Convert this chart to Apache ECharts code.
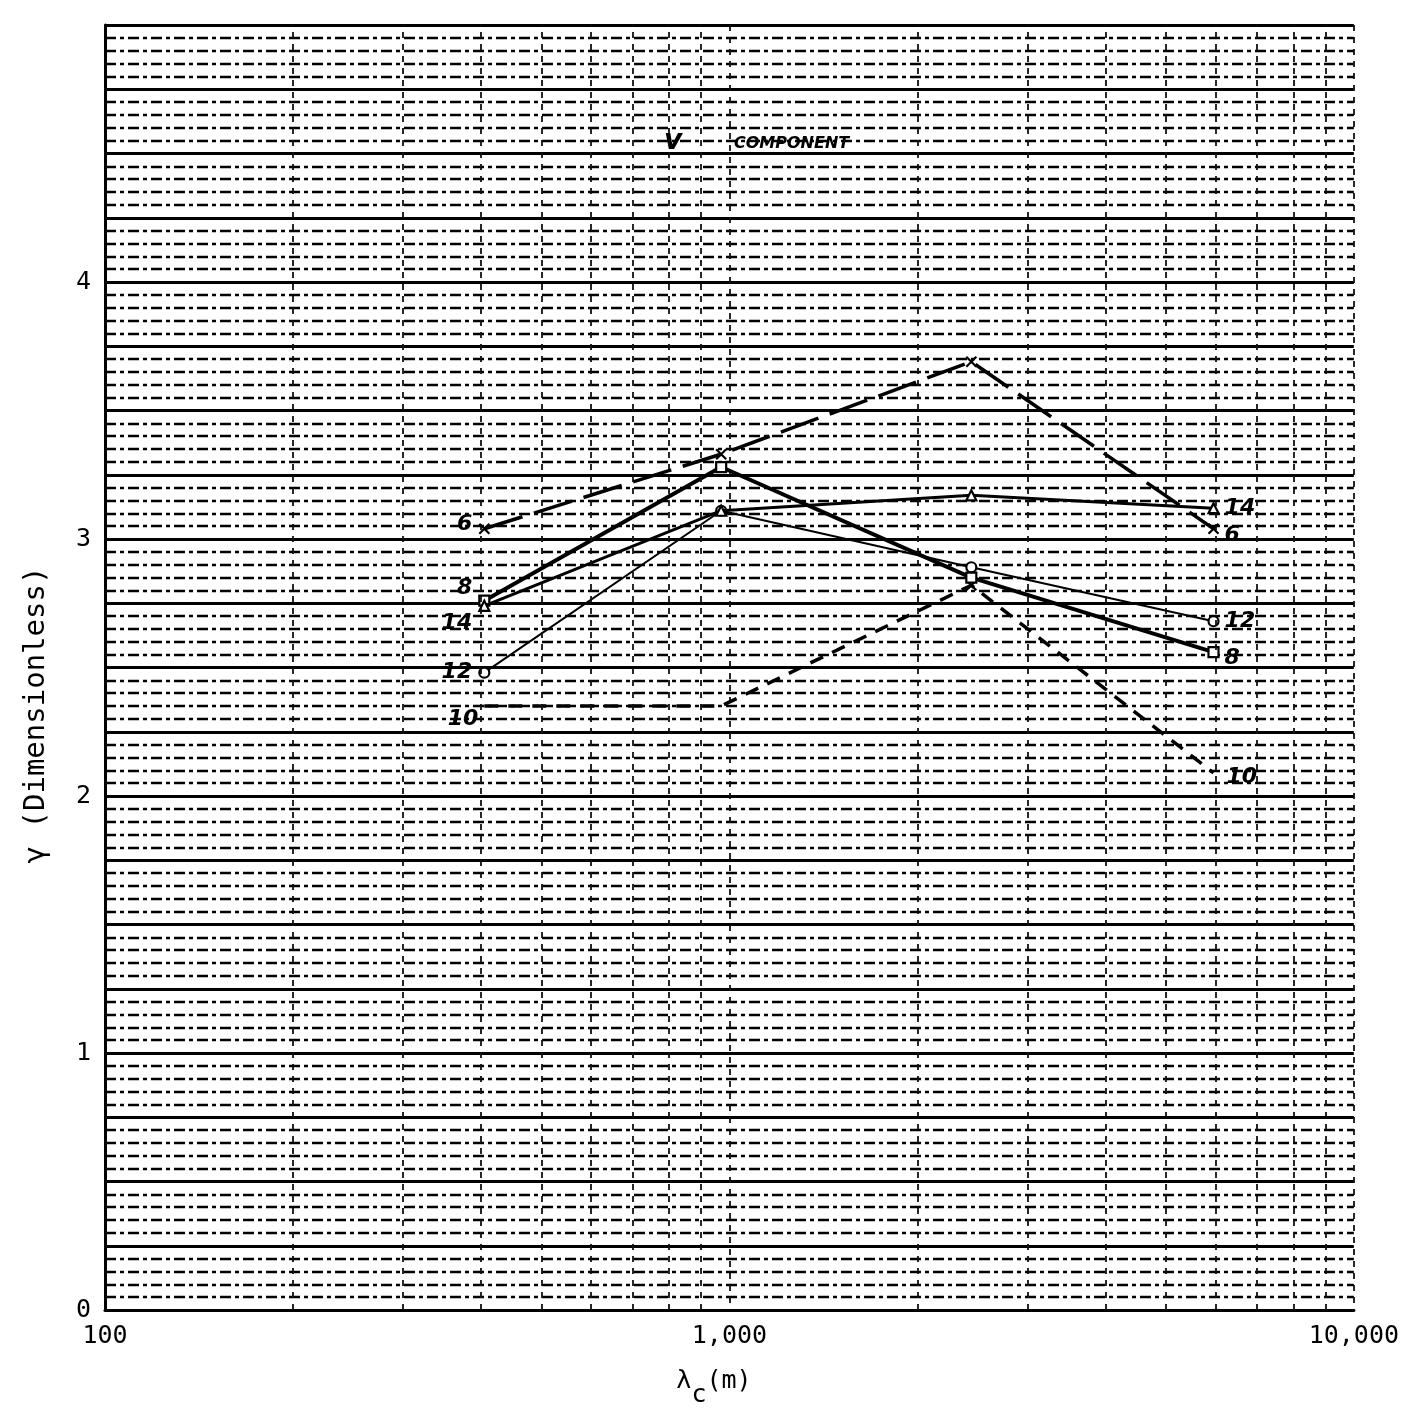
<!DOCTYPE html>
<html>
<head>
<meta charset="utf-8">
<script src="https://cdn.jsdelivr.net/npm/echarts@6/dist/echarts.min.js"></script>
<style>
  html, body { margin: 0; padding: 0; background: #fff; }
  #chart { width: 1402px; height: 1409px; }
</style>
</head>
<body>
<div id="chart"></div>
<script>
// Cutoff wavelength (m) at which gamma was evaluated
const lambdaC = [405, 970, 2440, 5960];

// Gamma (dimensionless) for each curve, labelled 6, 8, 14, 12, 10
const gamma6  = [3.04, 3.33, 3.69, 3.04];
const gamma8  = [2.76, 3.28, 2.85, 2.56];
const gamma14 = [2.74, 3.11, 3.17, 3.12];
const gamma12 = [2.48, 3.11, 2.89, 2.68];
const gamma10 = [2.35, 2.35, 2.82, 2.09];

// Axis ticks
const xTickValues = [100, 1000, 10000];
const xTickLabels = ['100', '1,000', '10,000'];
const yTickLabels = [0, 1, 2, 3, 4];
// Log-paper rulings inside each decade
const decadeRulings = [200, 300, 400, 500, 600, 700, 800, 900,
                       2000, 3000, 4000, 5000, 6000, 7000, 8000, 9000];

const labelFont = {
  color: '#000', fontSize: 22, fontStyle: 'italic', fontWeight: 'bold',
  fontFamily: 'DejaVu Sans'
};

function curve(name, values, style) {
  const last = values.length - 1;
  const hidden = style.hidden || [];
  const data = values.map((v, i) => {
    const item = { value: [lambdaC[i], v] };
    if (i === 0) {
      item.label = Object.assign({ show: true, position: 'left', distance: 6,
        offset: style.leftOffset || [0, 0], formatter: name }, labelFont);
    } else if (i === last) {
      item.label = Object.assign({ show: true, position: 'right', distance: 5,
        offset: style.rightOffset || [0, 0], formatter: name }, labelFont);
    }
    if (hidden.indexOf(i) >= 0) item.symbolSize = 0;
    return item;
  });
  return {
    name: name,
    type: 'line',
    data: data,
    symbol: style.symbol,
    symbolSize: style.symbolSize || 10,
    showAllSymbol: true,
    lineStyle: { color: '#000', width: style.width, type: style.type || 'solid' },
    itemStyle: { color: style.fill || '#fff', borderColor: '#000', borderWidth: 2.2 },
    z: style.z || 3
  };
}

const crossPath = 'path://M0,0L10,10M10,0L0,10';

const chart = echarts.init(document.getElementById('chart'), null, { renderer: 'canvas' });

chart.setOption({
  animation: false,
  backgroundColor: '#fff',
  grid: { left: 105, right: 48, top: 25, bottom: 99, containLabel: false },
  xAxis: {
    type: 'log',
    logBase: 10,
    min: 100,
    max: 10000,
    axisLine: { show: true, lineStyle: { color: '#000', width: 3 } },
    axisTick: { show: false },
    axisLabel: {
      margin: 14,
      color: '#000',
      fontSize: 25,
      fontFamily: 'DejaVu Sans Mono',
      formatter: v => {
        const k = xTickValues.indexOf(Math.round(v));
        return k >= 0 ? xTickLabels[k] : '';
      }
    },
    splitLine: { show: true, lineStyle: { color: '#111', width: 1.8, type: [6, 6] } }
  },
  yAxis: {
    type: 'value',
    min: 0,
    max: 5,
    interval: 0.25,
    axisLine: { show: true, lineStyle: { color: '#000', width: 3 } },
    axisTick: { show: false },
    axisLabel: {
      margin: 14,
      color: '#000',
      fontSize: 25,
      fontFamily: 'DejaVu Sans Mono',
      formatter: v => (yTickLabels.indexOf(v) >= 0 ? String(v) : '')
    },
    splitLine: { show: true, lineStyle: { color: '#000', width: 3 } },
    minorTick: { show: false, splitNumber: 5 },
    minorSplitLine: { show: true, lineStyle: { color: '#000', width: 2.4, type: [11, 4, 4, 4] } }
  },
  graphic: [
    {
      type: 'text', left: 664, top: 128,
      style: { text: 'v', font: 'italic bold 28px "DejaVu Sans"', fill: '#000' }
    },
    {
      type: 'text', left: 734, top: 136,
      style: { text: 'COMPONENT', font: 'italic bold 16px "DejaVu Sans"', fill: '#000' }
    },
    {
      type: 'text', x: 36, y: 715, rotation: Math.PI / 2,
      style: {
        text: 'γ (Dimensionless)', align: 'center', verticalAlign: 'middle',
        font: '29px "DejaVu Sans Mono"', fill: '#000'
      }
    },
    {
      type: 'text', x: 714, y: 1388,
      style: {
        text: '{a|λ}{b|c}{a|(m)}', align: 'center', verticalAlign: 'middle',
        rich: {
          a: { fontSize: 25, fontFamily: 'DejaVu Sans Mono', fill: '#000', verticalAlign: 'top', padding: [0, 0, 12, 0] },
          b: { fontSize: 25, fontFamily: 'DejaVu Sans Mono', fill: '#000', verticalAlign: 'bottom', padding: [14, 0, 0, 0] }
        }
      }
    }
  ],
  series: [
    {
      type: 'line',
      data: [],
      silent: true,
      markLine: {
        silent: true,
        symbol: 'none',
        label: { show: false },
        lineStyle: { color: '#111', width: 1.8, type: [6, 6] },
        data: decadeRulings.map(v => ({ xAxis: v }))
      },
      z: 1
    },
    curve('12', gamma12, { symbol: 'circle', width: 2, rightOffset: [0, 0] }),
    curve('10', gamma10, { symbol: crossPath, width: 3.5, type: [14, 10], hidden: [0, 1, 3],
      fill: 'transparent', leftOffset: [0, 13], rightOffset: [8, 4] }),
    curve('8', gamma8, { symbol: 'rect', width: 4, leftOffset: [0, -12], rightOffset: [0, 6] }),
    curve('14', gamma14, { symbol: 'triangle', width: 3, leftOffset: [0, 17], rightOffset: [0, 0], z: 4 }),
    curve('6', gamma6, { symbol: crossPath, width: 3.5, type: [40, 12], fill: 'transparent',
      leftOffset: [0, -4], rightOffset: [0, 7], z: 5 })
  ]
});
</script>
</body>
</html>
